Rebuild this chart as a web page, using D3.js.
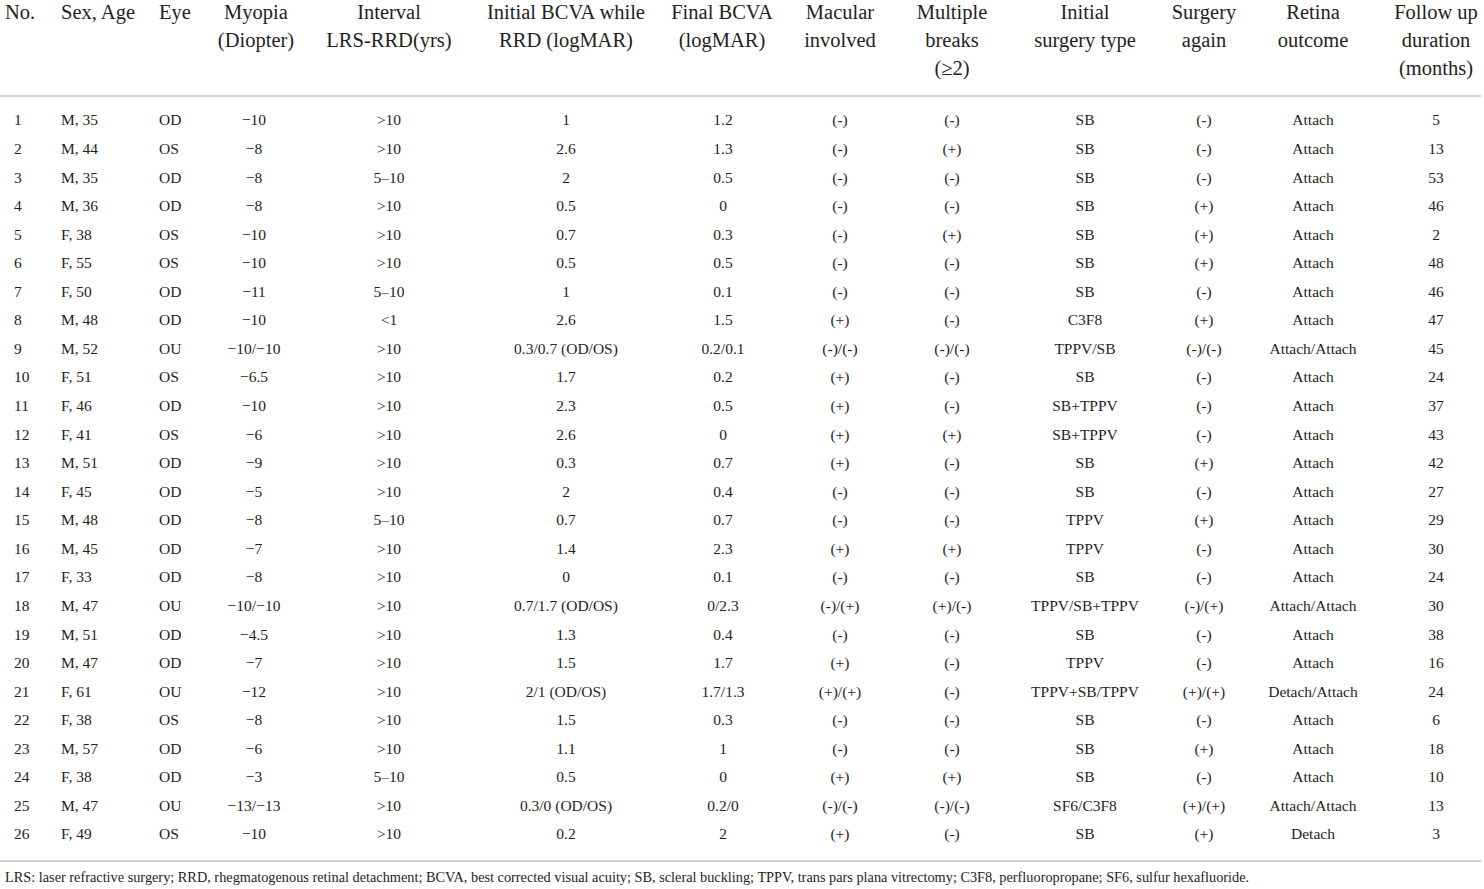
<!DOCTYPE html>
<html>
<head>
<meta charset="utf-8">
<script src="https://cdn.jsdelivr.net/npm/d3@7"></script>
<style>
  body { margin: 0; background: #fff; }
  text { font-family: "Liberation Serif", "Times New Roman", serif; fill: #231f20; }
</style>
</head>
<body>
<div id="table-container"></div>
<script>
// column headings, one entry per line
var headers = [
  ["No."], ["Sex, Age"], ["Eye"], ["Myopia", "(Diopter)"], ["Interval", "LRS-RRD(yrs)"],
  ["Initial BCVA while", "RRD (logMAR)"], ["Final BCVA", "(logMAR)"], ["Macular", "involved"],
  ["Multiple", "breaks", "(\u22652)"], ["Initial", "surgery type"], ["Surgery", "again"],
  ["Retina", "outcome"], ["Follow up", "duration", "(months)"]
];

var M = "\u2212";
var patientNo = d3.range(1, 27).map(String);
var sexAge = ["M, 35","M, 44","M, 35","M, 36","F, 38","F, 55","F, 50","M, 48","M, 52","F, 51","F, 46","F, 41","M, 51",
  "F, 45","M, 48","M, 45","F, 33","M, 47","M, 51","M, 47","F, 61","F, 38","M, 57","F, 38","M, 47","F, 49"];
var eye = ["OD","OS","OD","OD","OS","OS","OD","OD","OU","OS","OD","OS","OD","OD","OD","OD","OD","OU","OD","OD","OU","OS","OD","OD","OU","OS"];
var myopia = ["10","8","8","8","10","10","11","10","10/"+M+"10","6.5","10","6","9","5","8","7","8","10/"+M+"10","4.5","7","12","8","6","3","13/"+M+"13","10"].map(function(v){ return M + v; });
var interval = [">10",">10","5\u201310",">10",">10",">10","5\u201310","<1",">10",">10",">10",">10",">10",">10","5\u201310",">10",">10",">10",">10",">10",">10",">10",">10","5\u201310",">10",">10"];
var initialBCVA = ["1","2.6","2","0.5","0.7","0.5","1","2.6","0.3/0.7 (OD/OS)","1.7","2.3","2.6","0.3","2","0.7","1.4","0","0.7/1.7 (OD/OS)","1.3","1.5","2/1 (OD/OS)","1.5","1.1","0.5","0.3/0 (OD/OS)","0.2"];
var finalBCVA = ["1.2","1.3","0.5","0","0.3","0.5","0.1","1.5","0.2/0.1","0.2","0.5","0","0.7","0.4","0.7","2.3","0.1","0/2.3","0.4","1.7","1.7/1.3","0.3","1","0","0.2/0","2"];
var macular = ["(-)","(-)","(-)","(-)","(-)","(-)","(-)","(+)","(-)/(-)","(+)","(+)","(+)","(+)","(-)","(-)","(+)","(-)","(-)/(+)","(-)","(+)","(+)/(+)","(-)","(-)","(+)","(-)/(-)","(+)"];
var multipleBreaks = ["(-)","(+)","(-)","(-)","(+)","(-)","(-)","(-)","(-)/(-)","(-)","(-)","(+)","(-)","(-)","(-)","(+)","(-)","(+)/(-)","(-)","(-)","(-)","(-)","(-)","(+)","(-)/(-)","(-)"];
var surgeryType = ["SB","SB","SB","SB","SB","SB","SB","C3F8","TPPV/SB","SB","SB+TPPV","SB+TPPV","SB","SB","TPPV","TPPV","SB","TPPV/SB+TPPV","SB","TPPV","TPPV+SB/TPPV","SB","SB","SB","SF6/C3F8","SB"];
var surgeryAgain = ["(-)","(-)","(-)","(+)","(+)","(+)","(-)","(+)","(-)/(-)","(-)","(-)","(-)","(+)","(-)","(+)","(-)","(-)","(-)/(+)","(-)","(-)","(+)/(+)","(-)","(+)","(-)","(+)/(+)","(+)"];
var retinaOutcome = ["Attach","Attach","Attach","Attach","Attach","Attach","Attach","Attach","Attach/Attach","Attach","Attach","Attach","Attach","Attach","Attach","Attach","Attach","Attach/Attach","Attach","Attach","Detach/Attach","Attach","Attach","Attach","Attach/Attach","Detach"];
var followUp = ["5","13","53","46","2","48","46","47","45","24","37","43","42","27","29","30","24","30","38","16","24","6","18","10","13","3"];

var footnote = "LRS: laser refractive surgery; RRD, rhegmatogenous retinal detachment; BCVA, best corrected visual acuity; SB, scleral buckling; TPPV, trans pars plana vitrectomy; C3F8, perfluoropropane; SF6, sulfur hexafluoride.";

var columns = [patientNo, sexAge, eye, myopia, interval, initialBCVA, finalBCVA, macular,
  multipleBreaks, surgeryType, surgeryAgain, retinaOutcome, followUp];

var width = 1484, height = 889;

// column anchors: first three are left aligned, rest centred
var colX = d3.scaleOrdinal().domain(d3.range(13))
  .range([14, 61, 159, 254, 389, 566, 723, 840, 952, 1085, 1204, 1313, 1436]);
var headX = d3.scaleOrdinal().domain(d3.range(13))
  .range([5, 61, 159, 256, 389, 566, 722, 840, 952, 1085, 1204, 1313, 1436]);
function anchor(i){ return i < 3 ? "start" : "middle"; }

var rowY = d3.scalePoint().domain(d3.range(26)).range([120, 834]);
var headY = d3.scalePoint().domain([0, 1, 2]).range([12, 68]);

var svg = d3.select("#table-container")
  .append("svg")
    .attr("width", width)
    .attr("height", height);

svg.append("rect").attr("width", width).attr("height", height).attr("fill", "#fff");

// header
var head = svg.selectAll(".head").data(headers).enter()
  .append("text")
  .attr("class", "head")
  .attr("text-anchor", function(d, i){ return anchor(i); })
  .style("font-size", "20.5px");
head.selectAll("tspan").data(function(d, i){ return d.map(function(t){ return {t: t, c: i}; }); }).enter()
  .append("tspan")
  .attr("x", function(d){ return headX(d.c); })
  .attr("y", function(d, j){ return headY(j); })
  .attr("dy", "0.35em")
  .text(function(d){ return d.t; });

// rules
svg.selectAll(".rule").data([96, 861]).enter()
  .append("line")
  .attr("class", "rule")
  .attr("x1", 0).attr("x2", 1481)
  .attr("y1", function(d){ return d; }).attr("y2", function(d){ return d; })
  .attr("stroke", "#d4d4d4")
  .attr("stroke-width", 2);

// body cells
var col = svg.selectAll(".col").data(columns).enter()
  .append("g")
  .attr("class", "col")
  .attr("text-anchor", function(d, i){ return anchor(i); });
col.selectAll("text").data(function(d, i){ return d.map(function(v){ return {v: v, c: i}; }); }).enter()
  .append("text")
  .attr("x", function(d){ return colX(d.c); })
  .attr("y", function(d, r){ return rowY(r); })
  .attr("dy", "0.35em")
  .style("font-size", "15.5px")
  .text(function(d){ return d.v; });

svg.append("text")
  .attr("x", 5)
  .attr("y", 877)
  .attr("dy", "0.35em")
  .style("font-size", "14.3px")
  .text(footnote);
</script>
</body>
</html>
